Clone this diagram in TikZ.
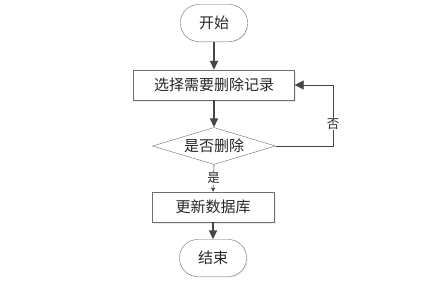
\documentclass[tikz,border=0pt]{standalone}
\usepackage{fontspec}
\newfontfamily\cjk{Noto Sans CJK SC}
\usetikzlibrary{arrows.meta, shapes.geometric, shadows}
\definecolor{linegray}{RGB}{70,70,70}
\definecolor{edgegray}{RGB}{110,110,110}
\definecolor{textgray}{RGB}{40,40,40}
\tikzset{
  every node/.style={font=\cjk\fontsize{15}{17}\selectfont, text=textgray},
  terminal/.style={draw=edgegray, fill=white, rounded corners=18pt, minimum width=67pt, minimum height=37pt, drop shadow={shadow xshift=1pt, shadow yshift=-1pt, fill=black!12}},
  procbox/.style={draw=edgegray, fill=white, minimum width=161pt, minimum height=30pt, drop shadow={shadow xshift=1.5pt, shadow yshift=-1.5pt, fill=black!15}},
  decision/.style={diamond, draw=edgegray, fill=white, aspect=3.3, inner sep=0pt, minimum width=123pt, minimum height=37pt},
  flow/.style={-{Triangle[length=9pt,width=8pt]}, draw=linegray, line width=1.6pt},
  thinflow/.style={-{Triangle[length=4pt,width=4pt]}, draw=linegray, line width=0.6pt},
  backflow/.style={-{Triangle[length=9pt,width=9pt]}, draw=linegray, line width=0.9pt},
  lbl/.style={fill=white, inner sep=1pt, font=\cjk\fontsize{12.5}{14}\selectfont}
}
\begin{document}
\begin{tikzpicture}[x=1pt, y=-1pt]
\useasboundingbox (0,0) rectangle (444,284);
\node[terminal] (start) at (214,23) {开始};
\node[procbox] (select) at (214,85) {选择需要删除记录};
\node[decision] (ask) at (214,146) {是否删除};
\node[procbox, minimum width=122pt] (update) at (213,207) {更新数据库};
\node[terminal] (stop) at (213,258) {结束};
\coordinate (turn) at (333,146);
\draw[flow] (start) -- (select);
\draw[flow] (select) -- (ask);
\draw[thinflow] (ask.south) -- node[lbl] {是} (update.north);
\draw[flow] (update) -- (stop);
\draw[backflow] (ask.east) -- (turn) |- node[lbl, pos=0.18] {否} (select.east);
\end{tikzpicture}
\end{document}
